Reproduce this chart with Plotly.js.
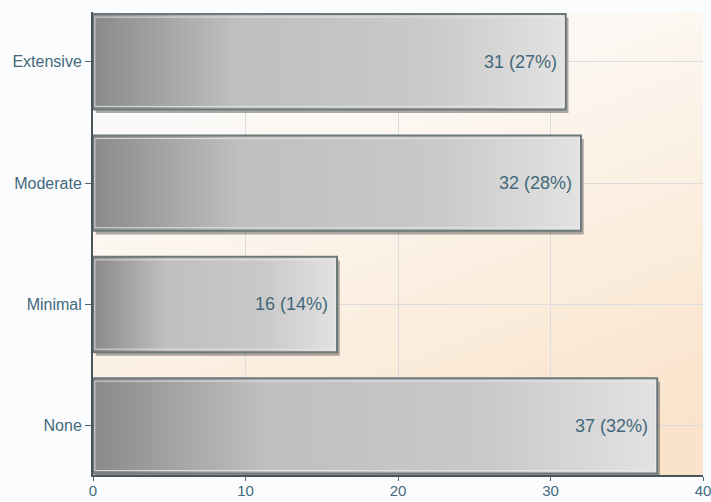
<!DOCTYPE html>
<html>
<head>
<meta charset="utf-8">
<script src="https://cdn.plot.ly/plotly-3.0.1.min.js"></script>
<style>
html,body{margin:0;padding:0;background:#fbfcfd;}
#chart{width:711px;height:502px;}
</style>
</head>
<body>
<div id="chart"></div>
<script>
// Data (bottom to top)
const categories = ['None', 'Minimal', 'Moderate', 'Extensive'];
const counts = [37, 16, 32, 31];
const percents = [32, 14, 28, 27];
const xTicks = [0, 10, 20, 30, 40];

const idx = categories.map((c, i) => i);
const half = 0.393;
const textColor = '#43697a';
const fontFam = 'Liberation Sans, Arial, sans-serif';

const traces = [];
// shadow (bar trace, slightly shifted)
traces.push({
  type: 'bar', orientation: 'h',
  y: idx.map(i => i - 0.03), x: counts, base: 0.18, width: 2 * half,
  marker: {color: 'rgba(70,70,70,0.45)', line: {width: 0}},
  hoverinfo: 'skip', showlegend: false
});
// gradient bars
idx.forEach(i => {
  const v = counts[i];
  traces.push({
    type: 'scatter', mode: 'lines',
    x: [0, v, v, 0, 0],
    y: [i - half, i - half, i + half, i + half, i - half],
    fill: 'toself',
    fillgradient: {
      type: 'horizontal',
      colorscale: [[0, '#8a8a8a'], [0.3, '#bfbfbf'], [0.7, '#c9c9c9'], [1, '#e2e2e2']]
    },
    line: {color: '#6d787b', width: 2},
    hoverinfo: 'skip', showlegend: false
  });
  // inner light outline
  const ix = 0.12, iy = 0.025;
  traces.push({
    type: 'scatter', mode: 'lines',
    x: [ix, v - ix, v - ix, ix, ix],
    y: [i - half + iy, i - half + iy, i + half - iy, i + half - iy, i - half + iy],
    line: {color: 'rgba(235,235,235,0.8)', width: 1},
    hoverinfo: 'skip', showlegend: false
  });
});

const annotations = idx.map(i => ({
  x: counts[i], y: i, xref: 'x', yref: 'y',
  text: counts[i] + ' (' + percents[i] + '%)',
  showarrow: false, xanchor: 'right', xshift: -7,
  font: {family: fontFam, size: 18, color: textColor}
}));

const bgSvg = '<svg xmlns="http://www.w3.org/2000/svg" width="100" height="100" preserveAspectRatio="none">' +
  '<defs><linearGradient id="g" x1="0.25" y1="0" x2="0.75" y2="1">' +
  '<stop offset="0" stop-color="#f9fbfd"/><stop offset="0.3" stop-color="#fcf7f1"/><stop offset="1" stop-color="#fae3ca"/>' +
  '</linearGradient></defs><rect width="100" height="100" fill="url(#g)"/></svg>';

const layout = {
  width: 711, height: 502,
  margin: {l: 93, r: 8, t: 12, b: 27, pad: 0},
  paper_bgcolor: '#fbfcfd',
  plot_bgcolor: 'rgba(0,0,0,0)',
  font: {family: fontFam, size: 16, color: textColor},
  barmode: 'overlay',
  showlegend: false,
  images: [{
    source: 'data:image/svg+xml;utf8,' + encodeURIComponent(bgSvg),
    xref: 'paper', yref: 'paper', x: 0, y: 1, sizex: 1, sizey: 1,
    sizing: 'stretch', layer: 'below', xanchor: 'left', yanchor: 'top'
  }],
  xaxis: {
    range: [0, 40], tickvals: xTicks, ticktext: xTicks.map(String),
    showgrid: true, gridcolor: '#dcdcdc', gridwidth: 1,
    zeroline: false, showline: true, linecolor: '#4a555a', linewidth: 2,
    ticks: 'outside', ticklen: 4, tickcolor: '#4a6672',
    ticklabeloverflow: 'allow', ticklabelstandoff: -3,
    tickfont: {size: 15, color: textColor}, fixedrange: true
  },
  yaxis: {
    range: [-0.405, 3.41], tickvals: idx, ticktext: categories,
    showgrid: true, gridcolor: '#dcdcdc', gridwidth: 1,
    zeroline: false, showline: true, linecolor: '#4a555a', linewidth: 2,
    ticks: 'outside', ticklen: 6, tickcolor: '#4a6672',
    tickfont: {size: 16, color: textColor}, fixedrange: true
  },
  annotations: annotations
};

Plotly.newPlot('chart', traces, layout, {displayModeBar: false, staticPlot: true});
</script>
</body>
</html>
